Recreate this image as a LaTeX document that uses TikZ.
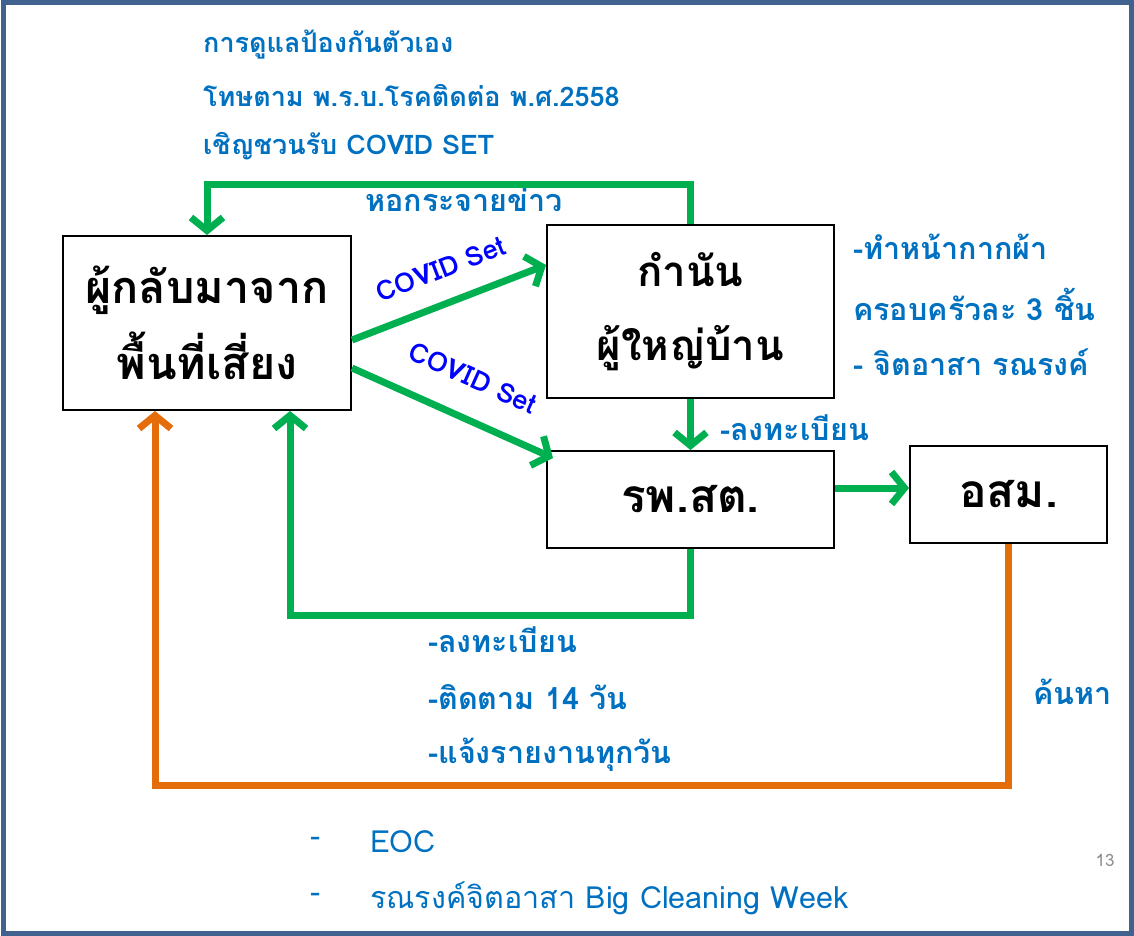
\documentclass[tikz,border=0pt]{standalone}
\usepackage{fontspec}
\setmainfont{Loma}[Script=Thai]
\usetikzlibrary{arrows.meta,calc}
\definecolor{sgreen}{HTML}{00B050}
\definecolor{sorange}{HTML}{E46C0A}
\definecolor{tblue}{HTML}{0070C0}
\definecolor{setblue}{HTML}{0000FF}
\definecolor{frameblue}{HTML}{41628F}
\tikzstyle{box}=[draw=black,line width=2pt,align=center,inner sep=0pt,font=\bfseries\fontsize{42}{74}\selectfont]
\tikzstyle{info}=[anchor=west,inner sep=0pt,text=tblue,font=\bfseries\fontsize{30.5}{34}\selectfont]
\tikzstyle{topinfo}=[info,font=\bfseries\fontsize{27}{32}\selectfont]
\tikzstyle{plain}=[anchor=west,inner sep=0pt,text=tblue,font=\fontsize{30.5}{34}\selectfont]
\tikzstyle{gline}=[draw=sgreen,line width=7pt,-{Straight Barb[length=13pt,width=32pt,line width=7pt]}]
\tikzstyle{oline}=[draw=sorange,line width=7pt,-{Straight Barb[length=13pt,width=32pt,line width=7pt]}]
\tikzstyle{setlabel}=[text=setblue,font=\bfseries\fontsize{27}{30}\selectfont,sloped,inner sep=0pt]

\begin{document}
\begin{tikzpicture}[x=1pt,y=-1pt]
	\useasboundingbox (0,0) rectangle (1134,936);
	\draw[frameblue,line width=5pt] (3,3) rectangle (1131,933);

	% the four boxes
	\node[box,minimum width=288pt,minimum height=174pt,font=\bfseries\fontsize{45}{76}\selectfont] (returnee) at (207,323) {ผู้กลับมาจาก\\พื้นที่เสี่ยง};
	\node[box,minimum width=287pt,minimum height=173pt] (kamnan) at (690.5,311.5) {กำนัน\\ผู้ใหญ่บ้าน};
	\node[box,minimum width=287pt,minimum height=97pt,font=\bfseries\fontsize{46}{50}\selectfont] (rpst) at (690.5,499.5) {รพ.สต.};
	\node[box,minimum width=197pt,minimum height=97pt,font=\bfseries\fontsize{46}{50}\selectfont] (osm) at (1008.5,494.5) {อสม.};

	% blue notes
	\foreach \pos/\name/\txt in {{(203,45)/care/{การดูแลป้องกันตัวเอง}}, {(203,96)/fine/{โทษตาม พ.ร.บ.โรคติดต่อ พ.ศ.2558}},
		{(203,146)/invite/{เชิญชวนรับ COVID SET}}}
	\node[topinfo] (\name) at \pos {\txt};

	\foreach \pos/\name/\txt in {{(365,200)/tower/{หอกระจายข่าว}},
		{(853,247)/mask/{-ทำหน้ากากผ้า}}, {(853,304)/family/{ครอบครัวละ 3 ชิ้น}}, {(853,362)/volunteer/{- จิตอาสา รณรงค์}},
		{(720,428)/regtop/{-ลงทะเบียน}}, {(428,640)/reg/{-ลงทะเบียน}}, {(428,697)/follow/{-ติดตาม 14 วัน}},
		{(428,755)/report/{-แจ้งรายงานทุกวัน}}, {(1033,692)/search/{ค้นหา}}}
	\node[info] (\name) at \pos {\txt};

	\foreach \pos/\name/\txt in {{(310,842)/dasha/{-}}, {(370,842)/eoc/{EOC}}, {(310,898)/dashb/{-}}, {(370,898)/week/{รณรงค์จิตอาสา Big Cleaning Week}}}
	\node[plain] (\name) at \pos {\txt};
	\node[text=black!45,font=\fontsize{17}{20}\selectfont] (page) at (1105,860) {13};

	% connectors
	\path[gline] (kamnan.north) -- (kamnan.north |- 0,185) -| (returnee.north);
	\path[gline] (returnee.east |- 0,340) -- node[setlabel,pos=0.52,above=21pt] {COVID Set} (kamnan.west |- 0,265);
	\path[gline] (returnee.east |- 0,368) -- node[setlabel,pos=0.52,above=27pt] {COVID Set} ($(rpst.north west)+(7,8)$);
	\path[gline] (kamnan.south) -- (rpst.north);
	\path[gline] (rpst.east |- 0,488) -- (osm.west |- 0,488);
	\path[gline] (rpst.south) -- (rpst.south |- 0,615) -| ($(returnee.south)+(83,0)$);
	\path[oline] (osm.south) -- (osm.south |- 0,785) -| ($(returnee.south)+(-52,0)$);
\end{tikzpicture}
\end{document}
